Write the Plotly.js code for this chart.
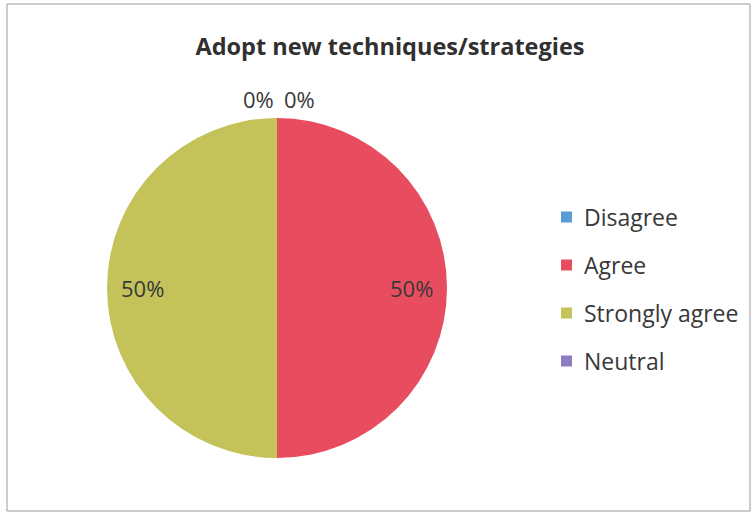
<!DOCTYPE html>
<html>
<head>
<meta charset="utf-8">
<script src="https://cdn.plot.ly/plotly-3.0.1.min.js"></script>
<style>
  html, body { margin: 0; padding: 0; background: #ffffff; }
  #chart { width: 752px; height: 514px; }
</style>
</head>
<body>
<div id="chart"></div>
<script>
// ---- data ----
const titleText = 'Adopt new techniques/strategies';
const labels = ['Disagree', 'Agree', 'Strongly agree', 'Neutral'];
const values = [0, 50, 50, 0];
const colors = ['#5B9BD5', '#E84C5F', '#C4C35A', '#8E7CC1'];

// ---- layout geometry (pixels) ----
const W = 752, H = 514;
const cx = 277, cy = 288, R = 170;
const FONT = '"Open Sans", Calibri, sans-serif';
const textColor = '#383838';

const px = x => x / W;
const py = y => 1 - y / H;

const total = values.reduce((a, b) => a + b, 0);

const annotations = [];
// slice labels (percentages), positioned from the slice angles
let cum = 0;
values.forEach((v, i) => {
  const frac = v / total;
  const mid = (cum + frac / 2) * 2 * Math.PI; // clockwise from 12 o'clock
  cum += frac;
  const pct = Math.round(frac * 100) + '%';
  let r, xshift = 0;
  if (v === 0) {
    r = 1.11;
    xshift = (i === 0) ? -19 : 23;
  } else {
    r = 0.79;
  }
  const x = cx + r * R * Math.sin(mid);
  const y = cy - r * R * Math.cos(mid);
  annotations.push({
    text: pct, xref: 'paper', yref: 'paper', x: px(x), y: py(y),
    xanchor: 'center', yanchor: 'middle', xshift: xshift, showarrow: false,
    font: { family: FONT, size: 22, color: textColor }
  });
});

// legend (text + square swatches)
const shapes = [];
const legX = 561, legY0 = 217, legStep = 48, sw = 11;
labels.forEach((lab, i) => {
  const y = legY0 + i * legStep;
  shapes.push({
    type: 'rect', xref: 'paper', yref: 'paper',
    x0: px(legX), x1: px(legX + sw), y0: py(y + sw / 2), y1: py(y - sw / 2),
    fillcolor: colors[i], line: { width: 0 }
  });
  annotations.push({
    text: lab, xref: 'paper', yref: 'paper', x: px(legX + sw + 10), y: py(y),
    xanchor: 'left', yanchor: 'middle', showarrow: false,
    font: { family: FONT, size: 23, color: textColor }
  });
});

// outer border
shapes.push({
  type: 'rect', xref: 'paper', yref: 'paper',
  x0: px(7), x1: px(750), y0: py(511), y1: py(4),
  line: { color: '#9a9a9a', width: 1 }, fillcolor: 'rgba(0,0,0,0)', layer: 'below'
});

const trace = {
  type: 'pie',
  labels: labels,
  values: values,
  sort: false,
  direction: 'clockwise',
  rotation: 0,
  textinfo: 'none',
  hoverinfo: 'label+percent',
  marker: { colors: colors, line: { width: 0 } },
  domain: { x: [px(cx - R), px(cx + R)], y: [py(cy + R), py(cy - R)] },
  showlegend: false
};

const layout = {
  width: W, height: H,
  margin: { l: 0, r: 0, t: 0, b: 0 },
  paper_bgcolor: '#ffffff',
  showlegend: false,
  title: {
    text: '<b>' + titleText + '</b>',
    x: px(390), xanchor: 'center',
    y: py(47), yanchor: 'middle',
    font: { family: FONT, size: 23.5, color: '#303030' }
  },
  annotations: annotations,
  shapes: shapes
};

Plotly.newPlot('chart', [trace], layout, { displayModeBar: false, staticPlot: true });
</script>
</body>
</html>
